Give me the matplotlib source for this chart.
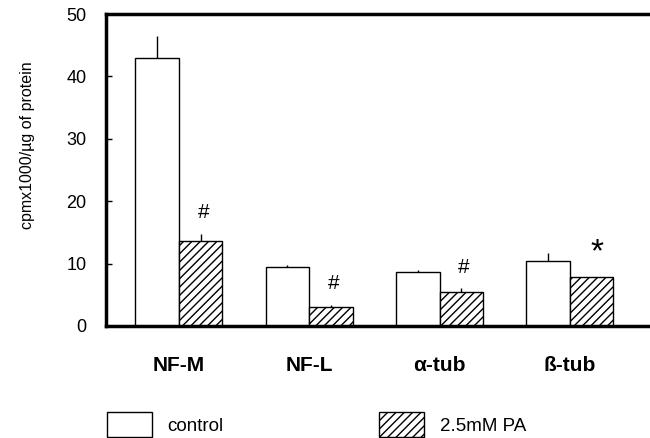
import matplotlib
matplotlib.use("Agg")
import matplotlib.pyplot as plt
import numpy as np

plt.rcParams['font.family'] = ['Liberation Sans', 'DejaVu Sans']
plt.rcParams['hatch.linewidth'] = 1.0

groups = ["NF-M", "NF-L", "α-tub", "ß-tub"]
control = [42.9, 9.4, 8.7, 10.4]
control_err = [3.6, 0.4, 0.3, 1.3]
pa = [13.6, 3.0, 5.4, 7.9]
pa_err = [1.1, 0.4, 0.6, 0.0]
marks = ["#", "#", "#", "*"]

x = np.arange(len(groups))
w = 0.334

fig = plt.figure(figsize=(6.5, 4.38), dpi=100)
ax = fig.add_axes([0.163, 0.256, 0.837, 0.712])

zeros = np.zeros(len(groups))
ax.bar(x - w / 2, control, w, color="white", edgecolor="black", linewidth=1.0,
       yerr=[zeros, control_err], error_kw=dict(ecolor="black", elinewidth=1.0, capsize=0),
       label="control")
ax.bar(x + w / 2, pa, w, color="white", edgecolor="black", linewidth=1.0, hatch="////",
       yerr=[zeros, pa_err], error_kw=dict(ecolor="black", elinewidth=1.0, capsize=0),
       label="2.5mM PA")

# significance marks
for i in range(len(groups)):
    top = pa[i] + pa_err[i]
    if marks[i] == "*":
        ax.text(x[i] + w / 2 + 0.04, top + 3.9, marks[i], ha="center", va="center", fontsize=24)
    else:
        ax.text(x[i] + w / 2 + 0.02, top + 3.4, marks[i], ha="center", va="center", fontsize=15)

ax.set_xlim(-0.56, 3.615)
ax.set_ylim(0, 50)
ax.set_yticks([0, 10, 20, 30, 40, 50])
ax.set_xticks(x)
ax.set_xticklabels(groups, fontsize=15, fontweight="bold")
ax.tick_params(axis="x", length=0, pad=22)
ax.tick_params(axis="y", labelsize=13, direction="in", length=4, width=1, pad=14)
ax.spines["right"].set_visible(False)
for s in ["left", "top", "bottom"]:
    ax.spines[s].set_linewidth(2.5)
ax.set_ylabel("cpmx1000/µg of protein", fontsize=11.5)
ax.yaxis.set_label_coords(-0.13, 0.58)

handles, labels = ax.get_legend_handles_labels()
fig.legend(handles, labels, loc="lower left", bbox_to_anchor=(0.138, -0.037), ncol=2,
           frameon=False, fontsize=13.5, handlelength=2.4, handleheight=1.7,
           handletextpad=0.85, columnspacing=8.3)

fig.savefig("out.png", dpi=100)
